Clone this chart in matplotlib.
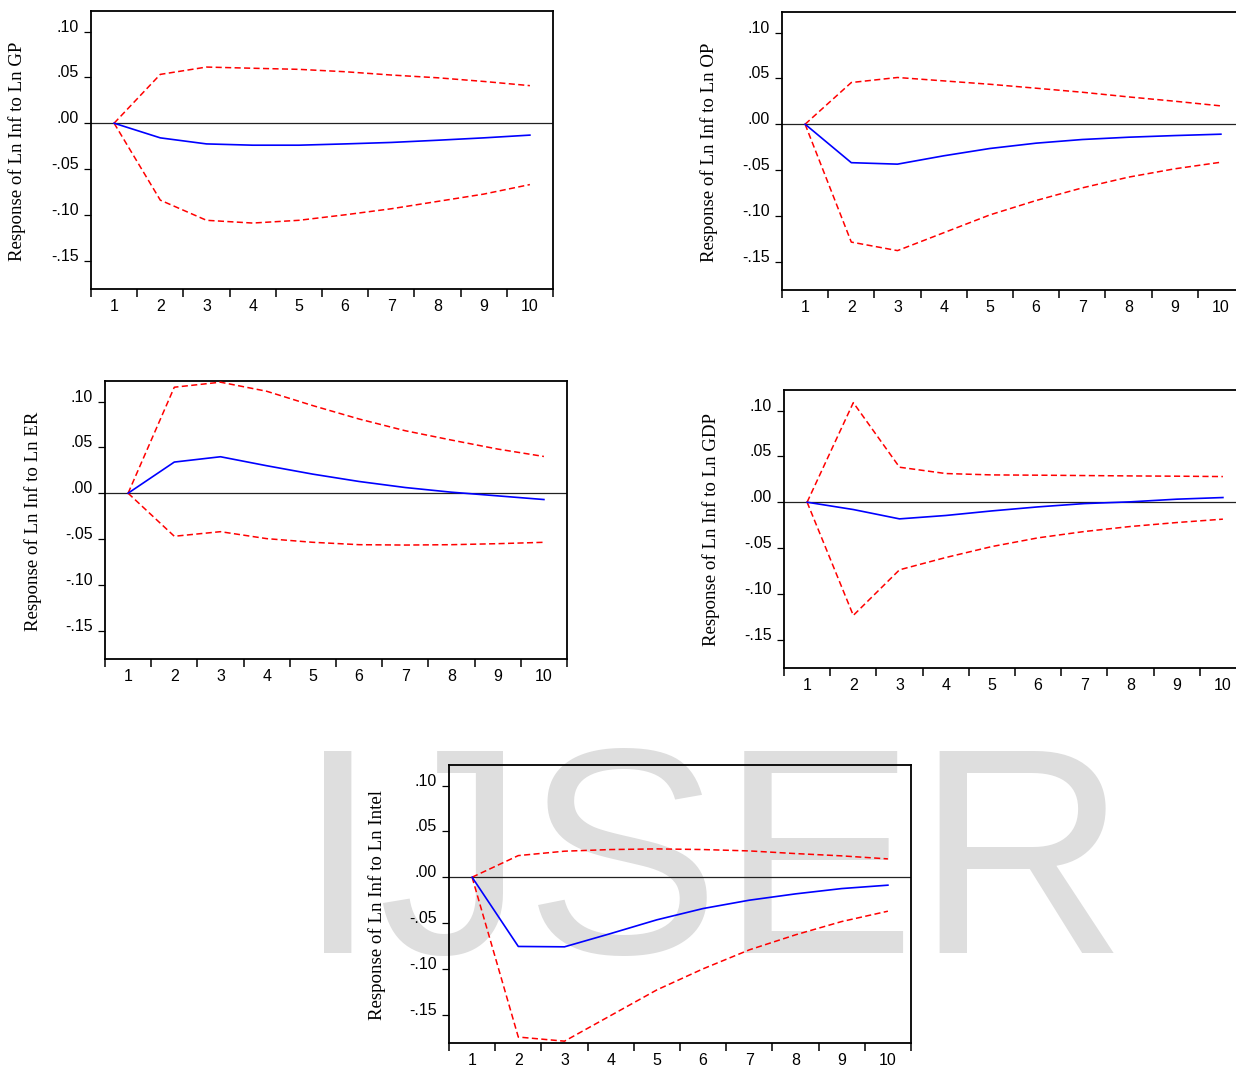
import matplotlib
matplotlib.use("Agg")
import matplotlib.pyplot as plt
from matplotlib.ticker import FixedLocator, NullFormatter

# ---------------- data ----------------
periods = [1, 2, 3, 4, 5, 6, 7, 8, 9, 10]
y_ticks = [0.10, 0.05, 0.00, -0.05, -0.10, -0.15]
y_tick_labels = [".10", ".05", ".00", "-.05", "-.10", "-.15"]

titles = ["Response of Ln Inf to Ln GP", "Response of Ln Inf to Ln OP",
          "Response of Ln Inf to Ln ER", "Response of Ln Inf to Ln GDP",
          "Response of Ln Inf to Ln Intel"]

gp_resp = [0.0, -0.016, -0.0226, -0.024, -0.024, -0.0226, -0.021, -0.0186, -0.016, -0.013]
gp_upper = [0.0, 0.0533, 0.0613, 0.060, 0.0588, 0.0562, 0.0526, 0.0496, 0.0456, 0.041]
gp_lower = [0.0, -0.084, -0.106, -0.109, -0.106, -0.100, -0.0934, -0.0854, -0.0774, -0.067]

op_resp = [0.0, -0.042, -0.0436, -0.0345, -0.0265, -0.0207, -0.0167, -0.0142, -0.0124, -0.0109]
op_upper = [0.0, 0.0455, 0.051, 0.0473, 0.0436, 0.0393, 0.0349, 0.0298, 0.0251, 0.020]
op_lower = [0.0, -0.1287, -0.138, -0.1185, -0.099, -0.0833, -0.0695, -0.0578, -0.0487, -0.0415]

er_resp = [0.0, 0.034, 0.0398, 0.030, 0.0208, 0.0128, 0.0062, 0.0011, -0.0029, -0.0069]
er_upper = [0.0, 0.1157, 0.1212, 0.1113, 0.0956, 0.081, 0.0682, 0.058, 0.0482, 0.0401]
er_lower = [0.0, -0.047, -0.042, -0.0496, -0.0536, -0.0562, -0.0566, -0.0562, -0.0551, -0.0536]

gdp_resp = [0.0, -0.008, -0.0182, -0.0145, -0.0095, -0.0051, -0.0015, 0.0004, 0.0033, 0.0051]
gdp_upper = [0.0, 0.1087, 0.0382, 0.0313, 0.0298, 0.0295, 0.0291, 0.0287, 0.0284, 0.028]
gdp_lower = [0.0, -0.1236, -0.0738, -0.0604, -0.0484, -0.0389, -0.032, -0.0265, -0.0222, -0.0185]

intel_resp = [0.0, -0.0756, -0.076, -0.0615, -0.0465, -0.0342, -0.0251, -0.0182, -0.0124, -0.0087]
intel_upper = [0.0, 0.0236, 0.0284, 0.0302, 0.0309, 0.0302, 0.0287, 0.0258, 0.0233, 0.020]
intel_lower = [0.0, -0.1745, -0.179, -0.151, -0.123, -0.100, -0.0793, -0.0629, -0.0484, -0.0371]

series = [(gp_resp, gp_upper, gp_lower), (op_resp, op_upper, op_lower),
          (er_resp, er_upper, er_lower), (gdp_resp, gdp_upper, gdp_lower),
          (intel_resp, intel_upper, intel_lower)]

# ---------------- layout (pixels in a 1236x1068 canvas) ----------------
W, H = 1236, 1068
boxes = [(91, 11, 462, 278), (782, 12, 462, 278), (105, 381, 462, 278),
         (784, 390, 462, 278), (449, 765, 462, 278)]
label_centers = [(17, 151), (709, 152), (33, 521), (711, 530), (377, 905)]

fig = plt.figure(figsize=(W / 100, H / 100), dpi=100)
fig.patch.set_facecolor("white")

# watermark
fig.text(712 / W, 1 - 953 / H, "IJSER", fontsize=211, color="#dedede",
         ha="center", va="baseline", family="Liberation Sans", zorder=0)

tick_font = dict(family="Liberation Sans", size=11.5)

for (l, t, w, h), (resp, up, lo), title, (lx, ly) in zip(boxes, series, titles, label_centers):
    ax = fig.add_axes([l / W, 1 - (t + h) / H, w / W, h / H])
    ax.set_facecolor("none")
    ax.set_zorder(2)
    ax.axhline(0, color="#222222", lw=0.9, zorder=1)
    ax.plot(periods, up, color="#ff0000", lw=1.1, ls=(0, (4, 2.2)), zorder=3)
    ax.plot(periods, lo, color="#ff0000", lw=1.1, ls=(0, (4, 2.2)), zorder=3)
    ax.plot(periods, resp, color="#0000ff", lw=1.2, zorder=4)
    ax.set_xlim(0.5, 10.5)
    ax.set_ylim(-0.181, 0.1225)
    for s in ax.spines.values():
        s.set_linewidth(1.3)
        s.set_color("black")
    # x ticks: labels at integers, tick marks at half integers
    ax.set_xticks(periods)
    ax.set_xticklabels([str(p) for p in periods], fontdict=tick_font)
    ax.xaxis.set_minor_locator(FixedLocator([p - 0.5 for p in periods] + [10.5]))
    ax.xaxis.set_minor_formatter(NullFormatter())
    ax.tick_params(axis="x", which="major", length=0, pad=7.5)
    ax.tick_params(axis="x", which="minor", length=6, width=1.1, direction="out")
    # y ticks
    ax.set_yticks(y_ticks)
    ax.set_yticklabels(y_tick_labels, fontdict=tick_font)
    ax.tick_params(axis="y", which="major", length=5, width=0.9, direction="out", pad=4)
    for tl in ax.get_yticklabels():
        tl.set_va("baseline")
    fig.text(lx / W, 1 - ly / H, title, rotation=90, ha="center", va="center",
             family="Liberation Serif", fontsize=13.6, zorder=3)

fig.savefig("out.png", dpi=100)
